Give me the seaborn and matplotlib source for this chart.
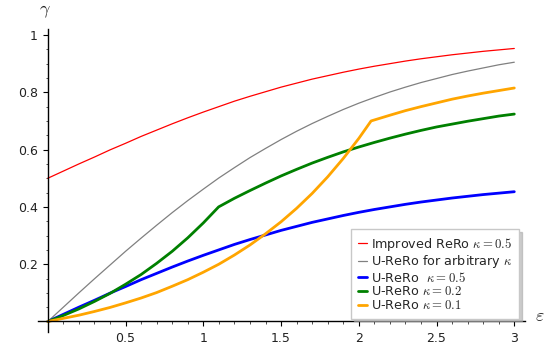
import matplotlib
matplotlib.use("Agg")
import matplotlib.pyplot as plt
import seaborn as sns
from matplotlib.ticker import MultipleLocator, FixedLocator

# ---- data ----
eps = [0.0, 0.1, 0.2, 0.3, 0.4, 0.5, 0.6, 0.7, 0.8, 0.9, 1.0,
       1.1, 1.2, 1.3, 1.4, 1.5, 1.6, 1.7, 1.8, 1.9, 2.0,
       2.1, 2.2, 2.3, 2.4, 2.5, 2.6, 2.7, 2.8, 2.9, 3.0]

improved_05 = [0.500, 0.525, 0.550, 0.574, 0.599, 0.622, 0.646, 0.668, 0.690, 0.711, 0.731,
               0.750, 0.769, 0.786, 0.802, 0.818, 0.832, 0.846, 0.858, 0.870, 0.881,
               0.891, 0.900, 0.909, 0.917, 0.924, 0.931, 0.937, 0.943, 0.948, 0.953]

u_arbitrary = [0.000, 0.050, 0.100, 0.149, 0.197, 0.245, 0.291, 0.336, 0.380, 0.422, 0.462,
               0.501, 0.537, 0.572, 0.604, 0.635, 0.664, 0.691, 0.716, 0.740, 0.762,
               0.782, 0.801, 0.818, 0.834, 0.848, 0.862, 0.874, 0.885, 0.896, 0.905]

u_05 = [0.000, 0.025, 0.050, 0.074, 0.099, 0.122, 0.146, 0.168, 0.190, 0.211, 0.231,
        0.250, 0.269, 0.286, 0.302, 0.318, 0.332, 0.346, 0.358, 0.370, 0.381,
        0.391, 0.400, 0.409, 0.417, 0.424, 0.431, 0.437, 0.443, 0.448, 0.453]

eps_02 = [0.0, 0.1, 0.2, 0.3, 0.4, 0.5, 0.6, 0.7, 0.8, 0.9, 1.0, 1.0986,
          1.2, 1.3, 1.4, 1.5, 1.6, 1.7, 1.8, 1.9, 2.0,
          2.1, 2.2, 2.3, 2.4, 2.5, 2.6, 2.7, 2.8, 2.9, 3.0]
u_02 = [0.000, 0.021, 0.044, 0.070, 0.098, 0.130, 0.164, 0.203, 0.245, 0.292, 0.344, 0.400,
        0.430, 0.457, 0.483, 0.508, 0.531, 0.553, 0.573, 0.592, 0.609,
        0.625, 0.640, 0.654, 0.667, 0.679, 0.689, 0.699, 0.708, 0.717, 0.724]

eps_01 = [0.0, 0.1, 0.2, 0.3, 0.4, 0.5, 0.6, 0.7, 0.8, 0.9, 1.0,
          1.1, 1.2, 1.3, 1.4, 1.5, 1.6, 1.7, 1.8, 1.9, 2.0, 2.079,
          2.2, 2.3, 2.4, 2.5, 2.6, 2.7, 2.8, 2.9, 3.0]
u_01 = [0.000, 0.011, 0.022, 0.035, 0.049, 0.065, 0.082, 0.101, 0.123, 0.146, 0.172,
        0.200, 0.232, 0.267, 0.306, 0.348, 0.395, 0.447, 0.505, 0.569, 0.639, 0.700,
        0.720, 0.736, 0.750, 0.763, 0.776, 0.787, 0.797, 0.806, 0.815]

labels = [r"Improved ReRo $\kappa=0.5$",
          r"U-ReRo for arbitrary $\kappa$",
          r"U-ReRo  $\kappa=0.5$",
          r"U-ReRo $\kappa=0.2$",
          r"U-ReRo $\kappa=0.1$"]
x_ticks = [0.5, 1.0, 1.5, 2.0, 2.5, 3.0]
x_tick_labels = ["0.5", "1", "1.5", "2", "2.5", "3"]
y_ticks = [0.2, 0.4, 0.6, 0.8, 1.0]
y_tick_labels = ["0.2", "0.4", "0.6", "0.8", "1"]

# ---- style ----
sns.set_style("ticks")
plt.rcParams["font.family"] = ["DejaVu Sans"]
plt.rcParams["mathtext.fontset"] = "cm"

W, H = 558, 349
fig = plt.figure(figsize=(W / 100, H / 100), dpi=100)

# pixel mapping derived from reference
px_per_x = 155.5
px_per_y = 286.5
x0_px, y0_px = 47.8, 321.5
xlim = (-0.062, 3.07)
ylim = (-0.035, 1.022)
left = x0_px + xlim[0] * px_per_x
right = x0_px + xlim[1] * px_per_x
bottom = y0_px - ylim[0] * px_per_y
top = y0_px - ylim[1] * px_per_y
ax = fig.add_axes([left / W, 1 - bottom / H, (right - left) / W, (bottom - top) / H])
ax.set_xlim(*xlim)
ax.set_ylim(*ylim)

series = [
    (eps, improved_05, "red", 0.9),
    (eps, u_arbitrary, "gray", 0.9),
    (eps, u_05, "blue", 2.0),
    (eps_02, u_02, "green", 2.0),
    (eps_01, u_01, "orange", 2.0),
]
for (xs, ys, c, lw), lab in zip(series, labels):
    sns.lineplot(x=xs, y=ys, color=c, linewidth=lw, label=lab, ax=ax,
                 sort=False, estimator=None)

# axes through origin
for s in ["top", "right"]:
    ax.spines[s].set_visible(False)
ax.spines["left"].set_position(("data", 0))
ax.spines["bottom"].set_position(("data", 0))
for s in ["left", "bottom"]:
    ax.spines[s].set_linewidth(1.0)
    ax.spines[s].set_color("black")

ax.xaxis.set_major_locator(FixedLocator(x_ticks))
ax.set_xticklabels(x_tick_labels)
ax.yaxis.set_major_locator(FixedLocator(y_ticks))
ax.set_yticklabels(y_tick_labels)
ax.xaxis.set_minor_locator(MultipleLocator(0.1))
ax.yaxis.set_minor_locator(MultipleLocator(0.05))
ax.tick_params(which="major", length=3.3, width=0.8, labelsize=9, pad=4,
               color="black", labelcolor="#222222", direction="out")
ax.tick_params(which="minor", length=1.8, width=0.6, color="#333333", direction="out")

fig.text(45 / W, 1 - 11 / H, r"$\gamma$", fontsize=13, ha="center", va="center")
fig.text(540 / W, 1 - 316 / H, r"$\varepsilon$", fontsize=13, ha="center", va="center")

leg = ax.legend(loc="lower right", bbox_to_anchor=(519 / W, 1 - 318.5 / H),
                bbox_transform=fig.transFigure, borderaxespad=0,
                fontsize=9.2, handlelength=0.75, handletextpad=0.3,
                labelspacing=0.05, borderpad=0.5, fancybox=False,
                shadow={"color": "#aaaaaa", "alpha": 0.6}, frameon=True, framealpha=1)
leg.get_frame().set_edgecolor("#c8c8c8")
leg.get_frame().set_linewidth(1.0)

fig.savefig("out.png", dpi=100)
